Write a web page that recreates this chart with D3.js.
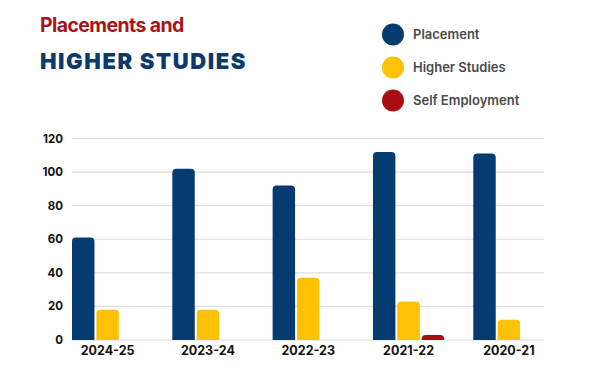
<!DOCTYPE html>
<html>
<head>
<meta charset="utf-8">
<script src="https://cdn.jsdelivr.net/npm/d3@7"></script>
<style>
  body { margin: 0; background: #fff; }
  svg { display: block; font-family: Inter, 'Open Sans', sans-serif; }
</style>
</head>
<body>
<div id="chart"></div>
<script>
const W = 600;
const H = 385;

const years = ['2024-25', '2023-24', '2022-23', '2021-22', '2020-21'];
const seriesNames = ['Placement', 'Higher Studies', 'Self Employment'];
const placement = [61, 102, 92, 112, 111];
const higherStudies = [18, 18, 37, 23, 12];
const selfEmployment = [0, 0, 0, 3, 0];
const yTicks = [0, 20, 40, 60, 80, 100, 120];
const colors = ['#053b70', '#fdc106', '#a80e12'];

const rows = years.map((y, i) => ({
  year: y,
  values: [placement[i], higherStudies[i], selfEmployment[i]]
}));

const svg = d3.select('#chart')
  .append('svg')
  .attr('width', W)
  .attr('height', H);

// title
svg.append('text')
  .attr('x', 40).attr('y', 32)
  .attr('fill', '#a8141a')
  .attr('font-size', 19.5)
  .attr('font-weight', 700)
  .attr('letter-spacing', -0.6)
  .text('Placements and');

svg.append('text')
  .attr('x', 40).attr('y', 69)
  .attr('fill', '#0b3a6d')
  .attr('font-size', 22)
  .attr('font-weight', 900)
  .attr('letter-spacing', 1.6)
  .text('HIGHER STUDIES');

// legend
const legend = svg.append('g');
seriesNames.forEach((name, i) => {
  const ly = 34.5 + i * 33;
  legend.append('circle')
    .attr('cx', 393).attr('cy', ly).attr('r', 11)
    .attr('fill', colors[i]);
  legend.append('text')
    .attr('x', 413).attr('y', ly + 4.5)
    .attr('fill', '#4a4a4a')
    .attr('font-size', 13)
    .attr('font-weight', 600)
    .text(name);
});

const y = d3.scaleLinear().domain([0, 120]).range([340, 138.5]);
const x0 = d3.scaleBand().domain(years).range([72, 544.5]).paddingInner(0.29).paddingOuter(0);
const x1 = d3.scaleBand().domain(d3.range(3)).range([0, x0.bandwidth()]).paddingInner(0.08);

// grid
svg.append('g')
  .selectAll('line')
  .data(yTicks)
  .enter()
  .append('line')
  .attr('x1', 72).attr('x2', 544)
  .attr('y1', d => y(d)).attr('y2', d => y(d))
  .attr('stroke', '#dedede')
  .attr('stroke-width', 1.2);

// y labels
svg.append('g')
  .selectAll('text')
  .data(yTicks)
  .enter()
  .append('text')
  .attr('x', 63)
  .attr('y', d => y(d) + 4)
  .attr('text-anchor', 'end')
  .attr('font-size', 11.5)
  .attr('font-weight', 700)
  .attr('fill', '#111')
  .text(d => d);

// bars with rounded top
function barPath(bx, by, bw, bh) {
  const r = Math.min(4, bh, bw / 2);
  return `M${bx},${by + bh}V${by + r}Q${bx},${by} ${bx + r},${by}H${bx + bw - r}Q${bx + bw},${by} ${bx + bw},${by + r}V${by + bh}Z`;
}

const groups = svg.append('g')
  .selectAll('g')
  .data(rows)
  .enter()
  .append('g')
  .attr('transform', d => `translate(${x0(d.year)},0)`);

groups.selectAll('path')
  .data(d => d.values.map((v, i) => ({ v, i })).filter(e => e.v > 0))
  .enter()
  .append('path')
  .attr('fill', d => colors[d.i])
  .attr('d', d => barPath(x1(d.i), y(d.v), x1.bandwidth(), y(0) - y(d.v)));

// x labels
svg.append('g')
  .selectAll('text')
  .data(years)
  .enter()
  .append('text')
  .attr('x', d => x0(d) + x0.bandwidth() / 2)
  .attr('y', 355)
  .attr('text-anchor', 'middle')
  .attr('font-size', 12.5)
  .attr('font-weight', 700)
  .attr('fill', '#111')
  .text(d => d);
</script>
</body>
</html>
